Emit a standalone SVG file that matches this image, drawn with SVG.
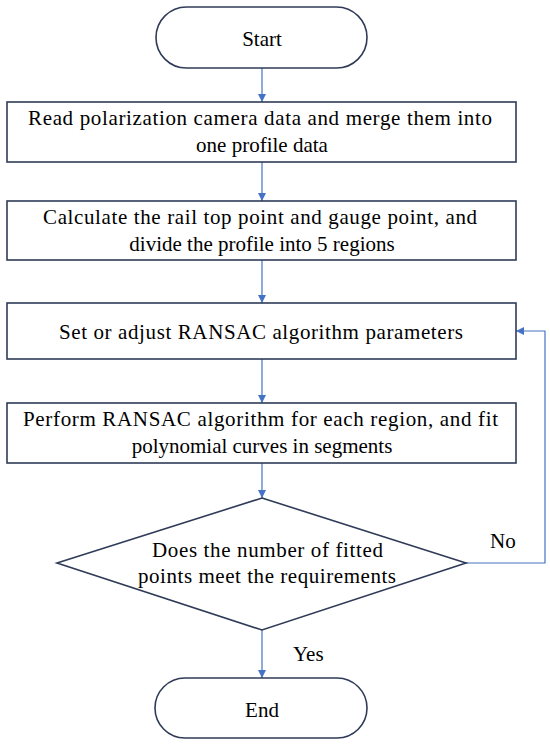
<svg xmlns="http://www.w3.org/2000/svg" width="550" height="746" viewBox="0 0 550 746">
<style>
.n{fill:#fff;stroke:#2f3b57;stroke-width:1.6}
.t{font-family:'Liberation Serif',Tinos,'Times New Roman','Noto Serif','DejaVu Serif',serif;font-size:21px;fill:#000}
.c{fill:none;stroke:#4472c4;stroke-width:1.2}
</style>
<defs>
<marker id="ah" viewBox="0 0 10 10" refX="10" refY="5" markerWidth="8" markerHeight="8" markerUnits="userSpaceOnUse" orient="auto">
<path d="M0,0L10,5L0,10z" fill="#4472c4"/>
</marker>
</defs>
<rect width="550" height="746" fill="#fff"/>
<g id="connectors">
<path class="c" d="M262,68V102" marker-end="url(#ah)"/>
<path class="c" d="M262,162V201" marker-end="url(#ah)"/>
<path class="c" d="M262,260V303" marker-end="url(#ah)"/>
<path class="c" d="M262,359V403" marker-end="url(#ah)"/>
<path class="c" d="M262,463V498" marker-end="url(#ah)"/>
<path class="c" d="M262,630V678" marker-end="url(#ah)"/>
<path class="c" d="M466,563H545V331H516" marker-end="url(#ah)"/>
<text class="t" x="490" y="548">No</text>
<text class="t" x="293" y="661">Yes</text>
</g>
<g id="start">
<rect class="n" x="156" y="7" width="211" height="61" rx="30.5"/>
<text class="t" x="262" y="46" text-anchor="middle">Start</text>
</g>
<g id="read">
<rect class="n" x="7" y="102" width="509" height="60"/>
<text class="t" x="28" y="125" textLength="464" lengthAdjust="spacing">Read polarization camera data and merge them into</text>
<text class="t" x="262" y="152" text-anchor="middle">one profile data</text>
</g>
<g id="calc">
<rect class="n" x="7" y="201" width="509" height="59"/>
<text class="t" x="43" y="224" textLength="434" lengthAdjust="spacing">Calculate the rail top point and gauge point, and</text>
<text class="t" x="262" y="251" text-anchor="middle">divide the profile into 5 regions</text>
</g>
<g id="set">
<rect class="n" x="7" y="303" width="509" height="56"/>
<text class="t" x="59" y="339" textLength="404" lengthAdjust="spacing">Set or adjust RANSAC algorithm parameters</text>
</g>
<g id="perform">
<rect class="n" x="7" y="403" width="509" height="60"/>
<text class="t" x="23" y="426" textLength="475" lengthAdjust="spacing">Perform RANSAC algorithm for each region, and fit</text>
<text class="t" x="262" y="453" text-anchor="middle">polynomial curves in segments</text>
</g>
<g id="decision">
<polygon class="n" points="262,498 466,563 262,630 57,563"/>
<text class="t" x="152" y="557" textLength="231" lengthAdjust="spacing">Does the number of fitted</text>
<text class="t" x="138" y="583" textLength="258" lengthAdjust="spacing">points meet the requirements</text>
</g>
<g id="end">
<rect class="n" x="155" y="678" width="212" height="60" rx="30"/>
<text class="t" x="262" y="717" text-anchor="middle">End</text>
</g>
</svg>
